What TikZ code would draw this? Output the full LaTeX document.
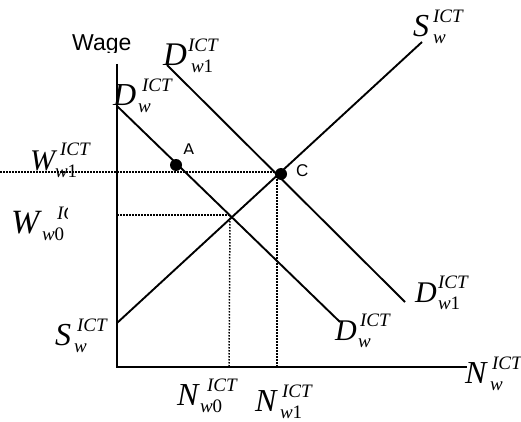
\documentclass[tikz,border=0pt]{standalone}
\usepackage{fontspec}
\setmainfont{Liberation Serif}
\newfontfamily\lsans{Liberation Sans}
\newcommand{\scr}{\fontsize{19}{19}\selectfont\itshape}
% size, main, sup, sub, sup dx, sub dx
\newcommand{\elab}[6]{\makebox[0pt][l]{\fontsize{#1}{#1}\selectfont\itshape #2}\makebox[0pt][l]{\hspace{#5}\raisebox{14pt}{\scr #3}}\hspace{#6}\raisebox{-7pt}{\scr #4}}
\newcommand{\wi}[1]{w\upshape #1}
\begin{document}
\begin{tikzpicture}[x=1pt,y=-1pt,
  curve/.style={line width=1.9pt,black},
  axisline/.style={line width=2pt,black},
  dotline/.style={line width=1.5pt,dash pattern=on 1.5pt off 1.5pt},
  lab/.style={anchor=base west,inner sep=0pt,outer sep=0pt},
  pointdot/.style={circle,fill=black,inner sep=0pt,minimum size=12pt},
  letter/.style={anchor=base west,inner sep=0pt,font=\lsans\fontsize{17}{17}\selectfont}]
\useasboundingbox (0,0) rectangle (521,422);
% coordinates
\coordinate (Ytop) at (117,64);
\coordinate (O) at (117,367);
\coordinate (Xend) at (467,367);
\coordinate (Dwa) at (117,106);
\coordinate (Dwb) at (340,322);
\coordinate (Dwia) at (167,65);
\coordinate (Dwib) at (405,302);
\coordinate (Swa) at (117,323);
\coordinate (Swb) at (422,42);
\coordinate (L1) at (0,172);
\coordinate (R1) at (281,172);
\coordinate (V1t) at (277,176);
\coordinate (V1b) at (277,367);
\coordinate (L0) at (117,215);
\coordinate (R0) at (230,215);
\coordinate (V0b) at (229,367);
% dotted guides
\draw[dotline] (L1) -- (R1);
\draw[dotline] (V1t) -- (V1b);
\draw[dotline] (L0) -- (R0);
\draw[dotline] (R0) -- (V0b);
% axes
\draw[axisline] (Ytop) -- (O) -- (Xend);
% curves
\draw[curve] (Dwa) -- (Dwb);
\draw[curve] (Dwia) -- (Dwib);
\draw[curve] (Swa) -- (Swb);
% points
\node[pointdot] (A) at (176,165) {};
\node[pointdot] (C) at (281,174) {};
\begin{scope}
\clip (170,130) rectangle (210,153);
\node[letter] (Alab) at (183,155) {A};
\end{scope}
\node[letter] (Clab) at (296,176) {C};
% Wage label
\begin{scope}
\clip (60,20) rectangle (150,53);
\node[anchor=base west,inner sep=0pt,font=\lsans\fontsize{23}{23}\selectfont] (wage) at (72,51) {Wage};
\end{scope}
% curve labels
\node[lab] (lDw1t) at (163,66) {\elab{33}{D}{ICT}{\wi{1}}{25pt}{28pt}};
\node[lab] (lDwt) at (113,106) {\elab{32}{D}{ICT}{w}{29pt}{25pt}};
\node[lab] (lWw1) at (30,170) {\elab{30}{W}{ICT}{\wi{1}}{30pt}{25pt}};
\begin{scope}
\clip (0,190) rectangle (67,250);
\node[lab] (lWw0) at (11,233) {\elab{34}{W}{ICT}{\wi{0}}{46pt}{31pt}};
\end{scope}
\node[lab] (lSwl) at (55,345) {\elab{32}{S}{ICT}{w}{22pt}{19pt}};
\node[lab] (lSwr) at (413,37) {\elab{32}{S}{ICT}{w}{20pt}{20pt}};
\node[lab] (lDw1r) at (415,302) {\elab{30}{D}{ICT}{\wi{1}}{23pt}{23pt}};
\node[lab] (lDwr) at (335,340) {\elab{30}{D}{ICT}{w}{25pt}{23pt}};
\node[lab] (lNw) at (465,383) {\elab{32}{N}{ICT}{w}{27pt}{25pt}};
\node[lab] (lNw0) at (177,405) {\elab{32}{N}{ICT}{\wi{0}}{30pt}{23pt}};
\node[lab] (lNw1) at (255,411) {\elab{32}{N}{ICT}{\wi{1}}{27pt}{25pt}};
\end{tikzpicture}
\end{document}
